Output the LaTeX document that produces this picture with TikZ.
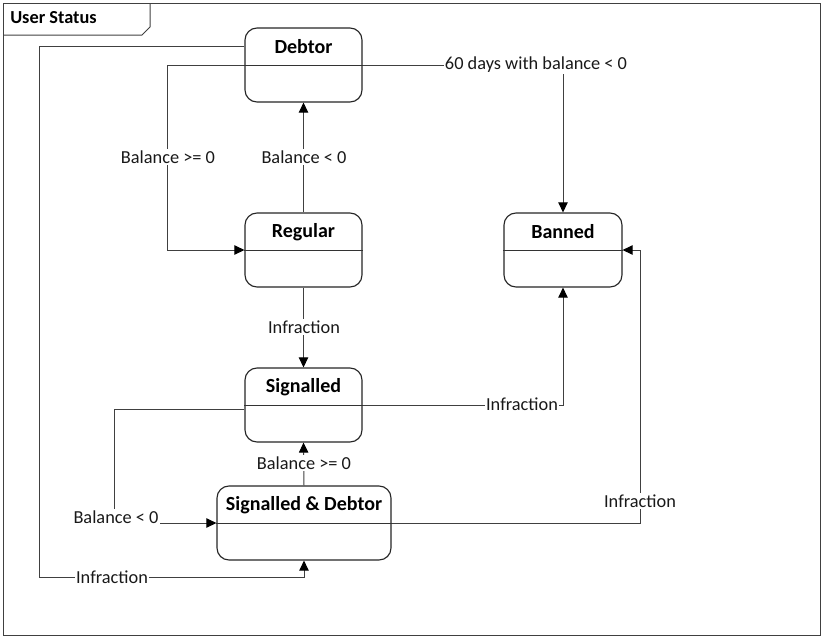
\documentclass[tikz,border=0pt]{standalone}
\usepackage{fontspec}
\setmainfont{Carlito}
\usetikzlibrary{arrows.meta,calc}
\newlength\px
\setlength\px{0.75pt}
\tikzset{
  state/.style={draw=black!85, line width=0.85pt, rounded corners=9pt, fill=white,
    minimum height=74\px, inner sep=0pt},
  stitle/.style={font=\bfseries\fontsize{15}{17}\selectfont, inner sep=0pt},
  conn/.style={draw=black!75, line width=0.75pt, -{Triangle[length=7.5pt,width=7pt,color=black]}},
  lbl/.style={fill=white, inner sep=1pt, font=\fontsize{13.75}{16}\selectfont, text=black!90},
}
\begin{document}
\begin{tikzpicture}[x=0.75pt, y=-0.75pt]
\useasboundingbox (0,0) rectangle (824,637);
% frame
\draw[black!75, line width=0.75pt] (3,3) rectangle (820,635);
\draw[black!75, line width=0.75pt] (3,35) -- (142,35) -- (150,27) -- (150,3);
\node[anchor=west, inner sep=0pt, font=\bfseries\fontsize{13.75}{16}\selectfont] (frametitle) at (10,18) {User Status};
% states
\node[state, minimum width=117\px] (debtor) at (303.5,65) {};
\node[state, minimum width=117\px] (regular) at (303.5,250) {};
\node[state, minimum width=118\px] (banned) at (563,250) {};
\node[state, minimum width=117\px] (signalled) at (303.5,405) {};
\node[state, minimum width=174\px] (sd) at (304,523) {};
\foreach \s in {debtor,regular,banned,signalled,sd}{
  \draw[black!80, line width=0.75pt] (\s.west) -- (\s.east);
}
\node[stitle] (debtorT) at ([yshift=-14.5pt]debtor.north) {Debtor};
\node[stitle] (regularT) at ([yshift=-14.5pt]regular.north) {Regular};
\node[stitle] (bannedT) at ([yshift=-14.5pt]banned.north) {Banned};
\node[stitle] (signalledT) at ([yshift=-14.5pt]signalled.north) {Signalled};
\node[stitle] (sdT) at ([yshift=-14.5pt]sd.north) {Signalled \& Debtor};
% connectors
\draw[conn] (debtor.east) -| (banned.north);
\node[lbl] (l1) at (536,65) {60 days with balance < 0};

\draw[conn] (debtor.west) -- ++(-77,0) |- (regular.west);
\node[lbl] (l2) at (168,157) {Balance >= 0};

\draw[conn] (regular.north) -- (debtor.south);
\node[lbl] (l3) at (304,157) {Balance < 0};

\draw[conn] (regular.south) -- (signalled.north);
\node[lbl] (l4) at (304,327) {Infraction};

\draw[conn] (signalled.east) -| (banned.south);
\node[lbl] (l5) at (522,404) {Infraction};

\coordinate (sigL) at ($(signalled.west)+(0,4)$);
\draw[conn] (sigL) -- ++(-130,0) |- (sd.west);
\node[lbl] (l6) at (116,517) {Balance < 0};

\draw[conn] (sd.north) -- (signalled.south);
\node[lbl] (l7) at (304,463) {Balance >= 0};

\draw[conn] (sd.east) -- ++(249,0) |- (banned.east);
\node[lbl] (l8) at (640,501) {Infraction};

\coordinate (debL) at ($(debtor.west)+(0,-19)$);
\draw[conn] (debL) -- ++(-205,0) |- (304,577) -- (sd.south);
\node[lbl] (l9) at (112,577) {Infraction};
\end{tikzpicture}
\end{document}
